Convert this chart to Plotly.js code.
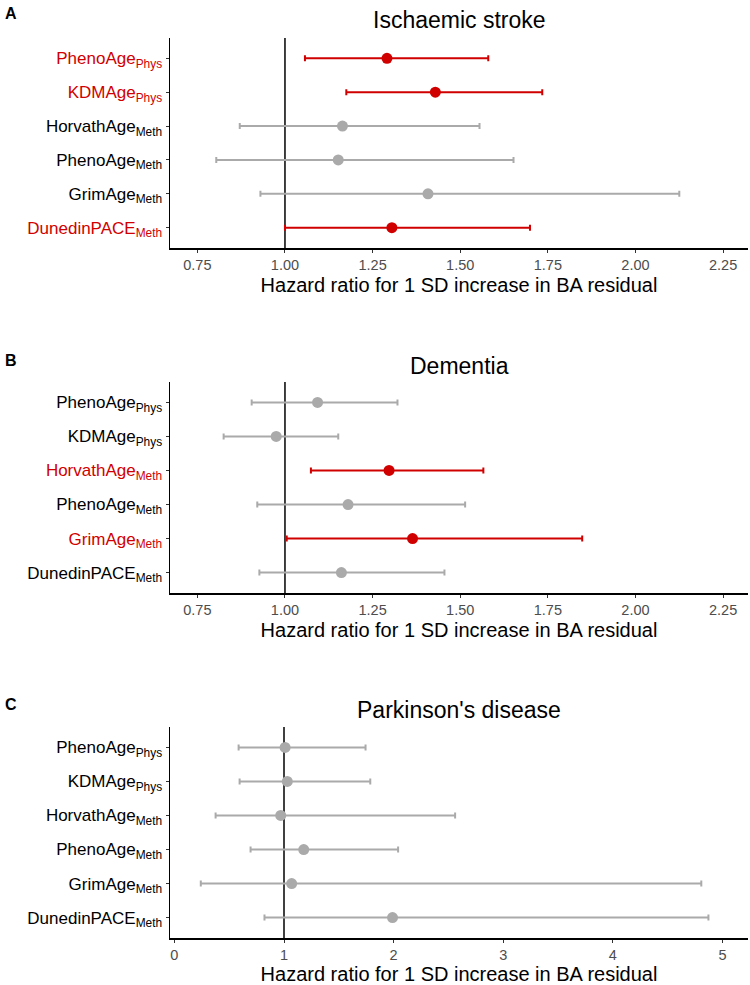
<!DOCTYPE html>
<html>
<head>
<meta charset="utf-8">
<script src="https://cdn.plot.ly/plotly-3.0.1.min.js"></script>
<style>html,body{margin:0;padding:0;background:#fff;}#chart{width:750px;height:985px;}</style>
</head>
<body>
<div id="chart"></div>
<script>
// ---- data ----
const clocks = ["PhenoAge", "KDMAge", "HorvathAge", "PhenoAge", "GrimAge", "DunedinPACE"];
const clockSubs = ["Phys", "Phys", "Meth", "Meth", "Meth", "Meth"];

const strokeHR = [1.291, 1.429, 1.164, 1.152, 1.408, 1.305];
const strokeLo = [1.057, 1.175, 0.871, 0.804, 0.930, 1.000];
const strokeHi = [1.580, 1.734, 1.555, 1.652, 2.125, 1.699];
const strokeSig = [true, true, false, false, false, true];

const dementiaHR = [1.093, 0.975, 1.297, 1.180, 1.364, 1.161];
const dementiaLo = [0.905, 0.825, 1.074, 0.921, 1.005, 0.927];
const dementiaHi = [1.321, 1.152, 1.566, 1.514, 1.848, 1.455];
const dementiaSig = [false, false, true, false, true, false];

const parkHR = [1.01, 1.03, 0.97, 1.18, 1.07, 1.99];
const parkLo = [0.586, 0.595, 0.376, 0.695, 0.241, 0.822];
const parkHi = [1.744, 1.787, 2.561, 2.041, 4.807, 4.872];
const parkSig = [false, false, false, false, false, false];

const panels = [
  {letter: "A", title: "Ischaemic stroke", hr: strokeHR, lo: strokeLo, hi: strokeHi, sig: strokeSig,
   range: [0.672, 2.321], tickvals: [0.75, 1.0, 1.25, 1.5, 1.75, 2.0, 2.25], ticktext: ["0.75","1.00","1.25","1.50","1.75","2.00","2.25"]},
  {letter: "B", title: "Dementia", hr: dementiaHR, lo: dementiaLo, hi: dementiaHi, sig: dementiaSig,
   range: [0.672, 2.321], tickvals: [0.75, 1.0, 1.25, 1.5, 1.75, 2.0, 2.25], ticktext: ["0.75","1.00","1.25","1.50","1.75","2.00","2.25"]},
  {letter: "C", title: "Parkinson's disease", hr: parkHR, lo: parkLo, hi: parkHi, sig: parkSig,
   range: [-0.04, 5.233], tickvals: [0, 1, 2, 3, 4, 5], ticktext: ["0","1","2","3","4","5"]}
];

// ---- styling ----
const RED = "#d10000";
const GREY = "#aaaaaa";
const FONT = "Liberation Sans, Arial, Helvetica, sans-serif";
const H = 985;
// plot-area pixel bounds (top, bottom) for each panel
const boxes = [[38, 248], [382, 593], [727, 938]];
const titleY = [20, 366, 710];
const letterY = [13, 360, 704];

const traces = [];
const layout = {
  width: 750, height: 985,
  margin: {l: 170, r: 2, t: 0, b: 0},
  paper_bgcolor: "#fff", plot_bgcolor: "#fff",
  showlegend: false,
  font: {family: FONT, color: "#000"},
  shapes: [], annotations: []
};

panels.forEach((p, k) => {
  const ax = k === 0 ? "" : String(k + 1);
  const xa = "x" + ax, ya = "y" + ax;
  const cats = clocks.map((c, i) => i + 1);
  const ticktextY = clocks.map((c, i) => {
    const lab = c + "<sub>" + clockSubs[i] + "</sub>";
    return p.sig[i] ? "<span style='color:" + RED + "'>" + lab + "</span>" : lab;
  });
  clocks.forEach((c, i) => {
    const col = p.sig[i] ? RED : GREY;
    traces.push({
      type: "scatter", mode: "markers",
      x: [p.hr[i]], y: [cats[i]],
      xaxis: xa, yaxis: ya,
      marker: {color: col, size: 11},
      error_x: {type: "data", symmetric: false,
                array: [p.hi[i] - p.hr[i]], arrayminus: [p.hr[i] - p.lo[i]],
                color: col, thickness: 2, width: 3},
      hoverinfo: "x+y"
    });
  });
  const [top, bot] = boxes[k];
  layout["xaxis" + ax] = {
    domain: [0, 1], anchor: ya, range: p.range,
    tickvals: p.tickvals, ticktext: p.ticktext,
    showgrid: false, zeroline: false,
    showline: true, linecolor: "#000", linewidth: 1.5,
    ticks: "outside", ticklen: 3, tickcolor: "#333", tickwidth: 1,
    tickfont: {family: FONT, size: 14.5, color: "#4d4d4d"},
    title: {text: "Hazard ratio for 1 SD increase in BA residual", font: {family: FONT, size: 20, color: "#000"}, standoff: 6}
  };
  layout["yaxis" + ax] = {
    domain: [1 - bot / H, 1 - top / H], anchor: xa,
    range: [6.6, 0.4],
    tickvals: cats, ticktext: ticktextY,
    showgrid: false, zeroline: false,
    showline: true, linecolor: "#000", linewidth: 1.5,
    ticks: "outside", ticklen: 3, tickcolor: "#333", tickwidth: 1,
    tickfont: {family: FONT, size: 17, color: "#000"}
  };
  layout.shapes.push({type: "line", xref: xa, yref: ya + " domain", x0: 1, x1: 1, y0: 0, y1: 1,
                      line: {color: "#000", width: 1.5}, layer: "below"});
  layout.annotations.push({text: p.title, xref: "paper", yref: "paper", x: 0.5, y: 1 - titleY[k] / H,
                           xanchor: "center", yanchor: "middle", showarrow: false,
                           font: {family: FONT, size: 23, color: "#000"}});
  layout.annotations.push({text: "<b>" + p.letter + "</b>", xref: "paper", yref: "paper",
                           x: -170 / 578 + 3 / 578, y: 1 - letterY[k] / H,
                           xanchor: "left", yanchor: "middle", showarrow: false,
                           font: {family: FONT, size: 16, color: "#000"}});
});

Plotly.newPlot("chart", traces, layout, {displayModeBar: false, staticPlot: true});
</script>
</body>
</html>
